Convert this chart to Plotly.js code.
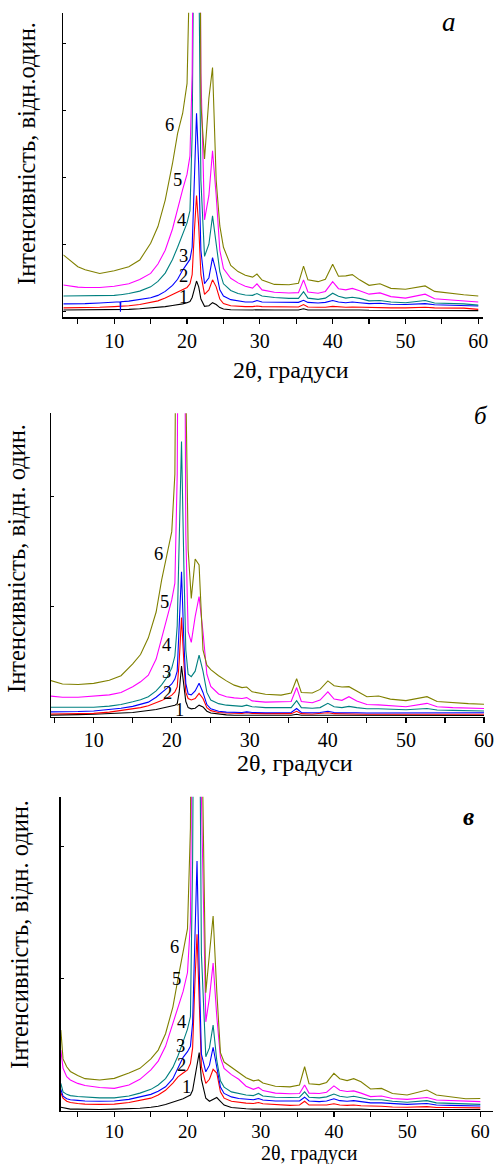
<!DOCTYPE html>
<html><head><meta charset="utf-8">
<script src="https://cdn.plot.ly/plotly-3.0.1.min.js"></script>
<style>html,body{margin:0;padding:0;background:#fff}</style>
</head><body><div id="chart" style="width:494px;height:1164px"></div>
<script>
// ---------- data (intensity in relative units, 0..100 of each panel height) ----------
const xA = [3,4,5,6,8,10,10.8,10.85,10.9,12,13.5,15,16,17,18,18.7,19.4,20,20.4,20.7,21.0,21.3,21.6,21.9,22.4,23.0,23.5,24.0,24.5,25,26,27,28,29,29.6,30.3,32,34,35.3,36,36.6,38,39,40,40.8,41.8,42.7,43.7,45,46.5,48,50,52.7,54,56,58,60];
const a1 = [2.4,2.4,2.4,2.4,2.4,2.5,2.5,2.5,2.5,2.6,2.8,3.0,3.2,3.5,3.9,4.1,4.4,4.8,5.2,6.5,9.5,11.9,10,6,3.6,3.8,4.8,4.2,3.2,2.7,2.5,2.4,2.4,2.4,2.5,2.4,2.4,2.4,2.4,2.8,2.4,2.4,2.4,2.6,2.4,2.4,2.4,2.4,2.3,2.3,2.3,2.3,2.4,2.3,2.2,2.2,2.2];
const a2 = [3.1,3.1,3.1,3.2,3.3,3.5,3.6,3.6,3.6,3.8,4.2,4.8,5.4,6.3,7.4,8.3,9.2,9.8,11,14,28,40,30,14,7.5,9,12.3,10,6,4.5,3.8,3.6,3.5,3.5,3.7,3.5,3.4,3.4,3.4,4.2,3.4,3.3,3.3,3.6,3.4,3.3,3.4,3.3,3.2,3.2,3.1,3.1,3.3,3.1,3.0,3.0,2.6];
const a3 = [4.4,4.4,4.4,4.5,4.7,5.0,5.1,1.8,5.1,5.3,5.8,6.4,7.2,8.5,10.5,12.5,15.5,17.5,19,23,45,67,50,22,11,13,19.6,15,9,7,5.8,5.3,5.0,5.0,5.5,5.0,4.9,4.8,4.9,5.6,4.9,4.7,4.9,5.5,5.0,4.8,5.0,4.8,4.5,4.6,4.3,4.2,4.5,4.1,4.0,3.9,3.7];
const a4 = [7.0,7.0,7.1,7.0,7.0,7.2,7.4,7.4,7.4,7.8,8.6,10,11.8,14.5,19,23,27.5,31,35,60,150,200,120,45,20,24,33.3,25,15,11,8.8,7.8,7.3,7.2,7.8,7.0,6.5,6.2,6.2,8.4,6.3,5.9,6.3,7.9,6.9,6.3,6.6,6.2,5.4,5.5,5.0,4.8,5.5,4.7,4.6,4.4,4.0];
const a5 = [10.6,10.2,9.9,9.8,9.8,10.2,10.5,10.5,10.5,11,12.4,14.4,17.5,22,29,36,42,47,53,80,200,300,200,80,32,40,54.7,40,22,16,12.8,11.3,10.2,9.6,11.0,9.0,8.2,8.0,8.1,12.3,8.3,7.9,8.5,11.7,9.4,9.0,9.5,8.7,7.6,8.0,6.8,6.3,7.6,6.1,5.7,5.3,5.0];
const a6 = [20.5,18.5,16.6,15.6,14.4,15.3,15.8,15.8,15.8,16.6,18.8,24.3,29.8,38.5,50.5,60.4,67,76.8,120,250,400,450,250,70,52,72,82,45,30,23,17,15,13.8,13.2,14.2,12.2,10.8,10.7,11.2,16.8,12.3,11.7,12.5,17.4,13.5,13.6,14.0,12.3,10.5,11,9.5,9.2,10.3,8.5,7.9,7.4,7.0];

const xB = [4.5,5,6,8,10,12,13.5,15,16,17,18,18.7,19.4,20,20.4,20.7,20.95,21.25,21.55,21.8,22.1,22.5,23.0,23.5,24.0,24.5,25,26,27,28,29,29.6,30.3,32,34,35.3,36,36.6,38,39,40,40.8,41.8,42.7,43.7,45,46.5,48,50,52.7,54,56,58,60];
const b1 = [0.5,0.5,0.6,0.7,0.8,1.0,1.2,1.4,1.7,2.0,2.4,2.8,3.2,3.5,3.8,4.3,8,16.7,11,5,3,2.6,2.8,3.8,3.2,1.8,1.2,0.8,0.6,0.5,0.5,0.6,0.5,0.5,0.5,0.5,0.8,0.5,0.5,0.5,0.6,0.5,0.5,0.5,0.5,0.5,0.5,0.5,0.5,0.5,0.5,0.5,0.5,0.4];
const b2 = [0.9,0.9,0.9,1.0,1.1,1.5,2.0,2.6,3.0,3.6,4.5,5.3,6.2,7.1,8.2,9.8,18,32.7,18,8,6,5.5,6,7.7,6,3,2,1.4,1.2,1.1,1.1,1.3,1.1,1.0,1.0,1.0,1.8,1.0,0.9,1.0,1.3,1.0,0.9,1.0,0.9,0.8,0.8,0.8,0.8,0.9,0.8,0.8,0.8,0.8];
const b3 = [1.6,1.6,1.6,1.7,1.9,2.3,2.8,3.4,4.0,4.8,6.4,7.8,9.4,10.8,12.4,15,28,47.8,25,11,7.5,7.2,8.5,11,8,4,2.6,1.8,1.5,1.4,1.4,1.6,1.4,1.3,1.3,1.4,2.7,1.4,1.3,1.4,1.8,1.4,1.3,1.4,1.3,1.2,1.2,1.2,1.2,1.3,1.2,1.2,1.2,1.3];
const b4 = [3.1,3.1,3.1,3.1,3.1,3.5,4.0,4.9,5.6,6.6,8.5,10.5,13.0,16,20,30,60,90.7,50,22,14,13.2,15,20.3,15,8,5.5,4.3,3.8,3.5,3.4,3.8,3.3,3.0,2.9,3.0,5.3,3.0,2.8,3.0,4.4,3.3,3.0,3.4,3.0,2.6,2.6,2.4,2.3,2.7,2.2,2.1,2.0,1.9];
const b5 = [6.8,6.6,6.4,6.4,6.8,7.2,8.0,9.9,11.5,13.7,19,26,33,38.5,44,80,200,300,200,60,28,24.5,33,39.6,28,14,10,7.5,6.6,6.2,6.0,6.3,5.2,4.8,4.8,5.0,9.6,5.0,4.6,5.5,8.2,5.8,5.4,6.6,5.2,4.0,3.9,3.6,3.3,4.4,3.3,3.0,2.8,2.7];
const b6 = [11.9,11.6,10.8,10.6,11,12.0,13.5,17.4,20.5,26,34.5,45,53.5,61,80,150,300,400,250,110,55,39,52,50,22,17,15.5,13.5,11.8,10.4,9.6,9.8,8.2,7.4,7.1,7.8,12.5,8,7.8,9,11.8,10.2,9.8,9.9,8.5,6.6,6.8,5.8,5.3,6.6,5.0,4.6,4.3,4.1];

const xC = [2.7,3.0,3.5,4,5,6,8,10,12,13.5,15,16,17,18,18.7,19.4,20,20.4,20.7,21.0,21.3,21.6,21.9,22.5,23.0,23.5,24.0,24.5,25,26,27,28,29,29.7,30.3,32,34,35.3,36,36.6,38,39,40,40.8,41.8,42.7,43.7,45,46.5,48,50,52.7,54,56,58,60];
const c1 = [1.1,1.0,0.7,0.5,0.5,0.4,0.4,0.5,0.6,0.8,1.1,1.4,2.0,2.7,3.2,3.8,4.5,5,6.5,11,15,18.5,10,4,3,3.6,4.2,3,1.8,1.0,0.7,0.6,0.5,0.6,0.5,0.5,0.5,0.5,0.7,0.5,0.5,0.5,0.5,0.5,0.5,0.5,0.5,0.4,0.4,0.4,0.4,0.4,0.4,0.4,0.4,0.4];
const c2 = [5.7,4.0,3.0,2.6,2.3,2.1,2.0,2.1,2.6,3.2,4.0,5.0,6.5,8.8,10.8,12,13,15,20,40,56.2,35,14,8.7,10,13.2,12,6,4,3.0,2.6,2.4,2.3,2.6,2.2,1.9,1.7,1.8,3.0,1.8,1.7,1.8,2.2,1.8,1.7,1.8,1.6,1.4,1.4,1.2,1.1,1.3,1.0,1.0,0.9,0.9];
const c3 = [6.8,4.6,3.8,3.5,3.3,3.1,3.0,3.1,3.6,4.3,5.2,6.2,7.6,10.2,13.5,17,18.8,20.5,28,55,79.5,45,18,12.4,14.5,20.2,14,7.5,5.5,4.4,3.9,3.6,3.5,3.9,3.4,3.1,3.0,3.1,4.3,3.1,2.9,3.1,3.8,3.2,3.0,3.2,2.9,2.5,2.5,2.2,2.0,2.3,1.8,1.7,1.6,1.5];
const c4 = [8.7,6.0,5.2,4.8,4.5,4.3,4.1,4.1,4.7,5.6,6.8,8.2,10.2,13.8,17.5,22,26,30,80,200,250,150,50,17.2,20,27.3,16,9.5,7.5,6.0,5.4,5.0,4.8,5.5,4.7,4.3,4.2,4.3,6.0,4.3,4.1,4.4,5.3,4.6,4.3,4.6,4.1,3.5,3.5,3.0,2.7,3.2,2.5,2.3,2.1,2.0];
const c5 = [19.3,13.5,10.8,9.8,8.7,8.0,7.4,7.1,8.2,10.0,13,15.8,20.5,28,33,38,44,60,150,300,350,250,100,28.3,36,47,30,17,13.5,11.5,10,7.8,6.8,7.4,6.4,5.6,5.4,5.5,8.2,5.6,5.5,5.9,7.9,6.5,6.1,6.3,5.6,4.5,4.7,3.9,3.6,4.2,3.4,3.2,3.0,2.9];
const c6 = [25.7,16.5,14,12.5,11.2,10.2,9.8,10.3,12,13.5,16.5,19.3,24.5,33,42,51,58,90,250,400,450,300,130,37.6,50,62,38,18.5,15.5,13.8,12.2,10.5,9.5,9.8,8.8,7.8,7.6,8.2,14.0,8.6,8.3,9.0,11.9,10.2,9.6,10.2,9.2,6.9,7.1,5.5,5.0,6.6,5.0,4.5,3.8,3.9];

const colors = ['#000000','#ff0000','#0000ff','#008080','#ff00ff','#808000'];
const curveLabels = ['1','2','3','4','5','6'];
const panelLetters = ['а','б','в'];
const xTitle = '2θ, градуси';
const yTitles = ['Інтенсивність, відн.один.','Інтенсивність, відн. один.','Інтенсивність, відн. один.'];

// ---------- build ----------
const W = 494, H = 1164;
const px = p => p / W, py = p => 1 - p / H;
const serif = '"Liberation Serif", "DejaVu Serif", serif';

const panels = [
  {x: xA, ys: [a1,a2,a3,a4,a5,a6], xa: 'x', ya: 'y'},
  {x: xB, ys: [b1,b2,b3,b4,b5,b6], xa: 'x2', ya: 'y2'},
  {x: xC, ys: [c1,c2,c3,c4,c5,c6], xa: 'x3', ya: 'y3'}
];
const traces = [];
panels.forEach(p => {
  p.ys.forEach((y, i) => {
    traces.push({x: p.x, y: y, xaxis: p.xa, yaxis: p.ya, type: 'scatter', mode: 'lines',
      line: {color: colors[i], width: 1.1}, hoverinfo: 'skip', showlegend: false});
  });
});

function xAxis(dom, rng, anchor, fs, standoff) {
  return {domain: dom, range: rng, anchor: anchor, showline: true, linecolor: '#000', linewidth: 1.5,
    ticks: 'outside', ticklen: 5, tickwidth: 1.2, tickcolor: '#000', tick0: 0, dtick: 10,
    minor: {dtick: 5, tick0: 0, ticks: 'outside', ticklen: 5, tickwidth: 1.2, tickcolor: '#000'},
    showgrid: false, zeroline: false, mirror: false, ticklabelstandoff: standoff || 0,
    tickfont: {family: serif, size: fs || 20, color: '#000'}};
}
function yAxis(dom, t0, dt, anchor) {
  return {domain: dom, range: [0, 100], anchor: anchor, showline: true, linecolor: '#000', linewidth: 1.5,
    ticks: 'inside', ticklen: 3, tickwidth: 1, tickcolor: '#000', tick0: t0, dtick: dt,
    showticklabels: false, showgrid: false, zeroline: false, mirror: false};
}

const layout = {
  width: W, height: H, margin: {l: 0, r: 0, t: 0, b: 0},
  paper_bgcolor: '#fff', plot_bgcolor: '#fff', showlegend: false,
  font: {family: serif, color: '#000'},
  xaxis: xAxis([px(63.3), px(483)], [3.0, 60.65], 'y'),
  yaxis: yAxis([py(317.3), py(12.7)], 24, 22, 'x'),
  xaxis2: xAxis([px(51), px(485)], [4.53, 60.13], 'y2'),
  yaxis2: yAxis([py(716.7), py(413.3)], 0, 36.26, 'x2'),
  xaxis3: xAxis([px(60.7), px(493)], [2.68, 61.73], 'y3', 19, -2),
  yaxis3: yAxis([py(1110.7), py(796.7)], 0, 42.1, 'x3'),
  annotations: []
};

function ann(text, x, y, size, opts) {
  return Object.assign({text: text, xref: 'paper', yref: 'paper', x: px(x), y: py(y),
    xanchor: 'center', yanchor: 'middle', showarrow: false,
    font: {family: serif, size: size, color: '#000'}}, opts || {});
}
// axis titles
layout.annotations.push(ann(xTitle, 290.5, 370, 24));
layout.annotations.push(ann(xTitle, 295, 763, 24));
layout.annotations.push(ann(xTitle, 309, 1153, 20));
layout.annotations.push(ann(yTitles[0], 27, 154, 24.5, {textangle: -90}));
layout.annotations.push(ann(yTitles[1], 16, 559, 24.5, {textangle: -90}));
layout.annotations.push(ann(yTitles[2], 19, 935, 24.5, {textangle: -90}));
// panel letters
layout.annotations.push(ann('<i>' + panelLetters[0] + '</i>', 449, 22, 27));
layout.annotations.push(ann('<i>' + panelLetters[1] + '</i>', 481, 415, 25));
layout.annotations.push(ann('<b><i>' + panelLetters[2] + '</i></b>', 468, 816, 25));
// curve number labels
const labPos = [
  [[183,297],[183,276],[183,256],[181,220],[177,180],[169,125]],
  [[179,710],[167.7,692.5],[166.7,672.5],[166.7,645],[164.3,601.7],[158.3,554]],
  [[186,1086.7],[181,1065],[180,1046],[181.7,1022.3],[176.7,979.3],[174.3,946.7]]
];
labPos.forEach(ps => ps.forEach((p, i) => {
  layout.annotations.push(ann(curveLabels[i], p[0], p[1], 18.5));
}));

Plotly.newPlot('chart', traces, layout, {staticPlot: true, displayModeBar: false});
</script>
</body></html>
